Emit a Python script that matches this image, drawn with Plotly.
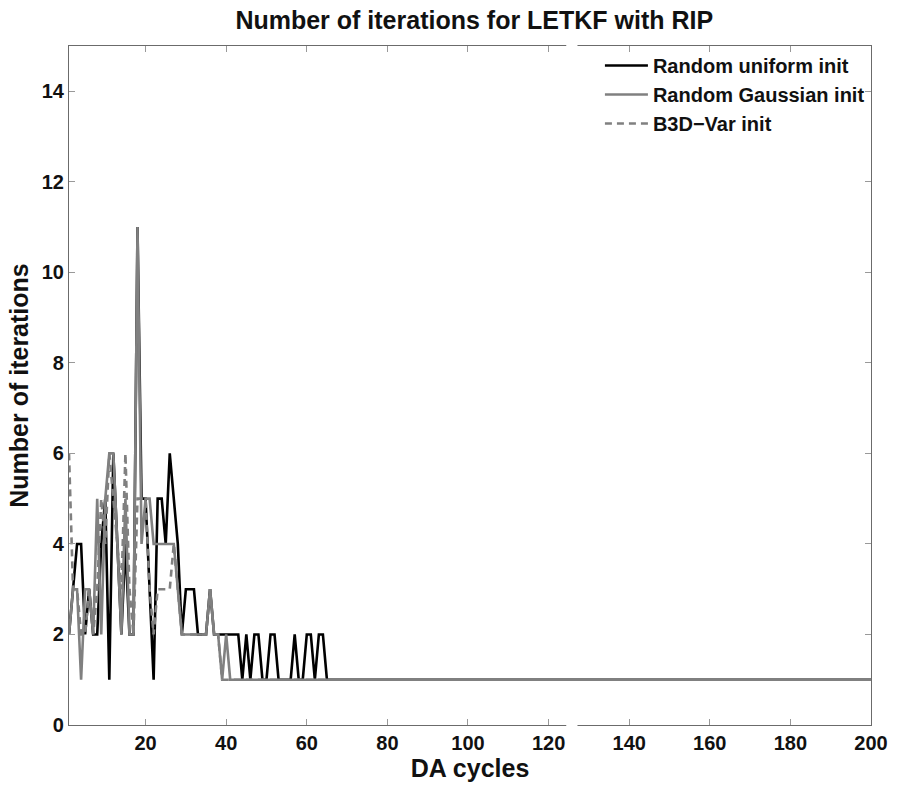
import plotly.graph_objects as go

# DA cycles 1..200
cycles = list(range(1, 201))

# Values (cycles 1..65), all series equal 1 afterwards
uniform_early = [2, 3, 4, 4, 2, 3, 2, 2, 4, 5,
                 1, 6, 4, 2, 4, 2, 2, 11, 5, 5,
                 3, 1, 5, 5, 4, 6, 5, 4, 2, 3,
                 3, 3, 2, 2, 2, 3, 2, 2, 2, 2,
                 2, 2, 2, 1, 2, 1, 2, 2, 1, 1,
                 2, 2, 1, 1, 1, 1, 2, 1, 1, 2,
                 2, 1, 2, 2, 1]
gaussian_early = [2, 3, 3, 1, 3, 3, 2, 5, 2, 5,
                  6, 6, 4, 2, 5, 2, 2, 11, 4, 5,
                  5, 4, 4, 4, 4, 4, 4, 3, 2, 2,
                  2, 2, 2, 2, 2, 3, 2, 2, 1, 2,
                  1]
b3dvar_early = [6, 3, 3, 2, 2, 3, 2, 3, 5, 4,
                6, 5, 4, 3, 6, 3, 2, 5, 5, 5,
                3, 2, 3, 3, 3, 3, 4, 3, 2, 2,
                2, 2, 2, 2, 2, 3, 2, 2, 1]

uniform = uniform_early + [1] * (200 - len(uniform_early))
gaussian = gaussian_early + [1] * (200 - len(gaussian_early))
b3dvar = b3dvar_early + [1] * (200 - len(b3dvar_early))

x_ticks = [20, 40, 60, 80, 100, 120, 140, 160, 180, 200]
y_ticks = [0, 2, 4, 6, 8, 10, 12, 14]

FONT = "Liberation Sans, Arial, Helvetica, sans-serif"
GREY = "#808080"
FRAME = "#6b6b6b"
TXT = "#111111"

fig = go.Figure()
fig.add_trace(go.Scatter(x=cycles, y=uniform, mode="lines", name="Random uniform init",
                         line=dict(color="#000000", width=2.6)))
fig.add_trace(go.Scatter(x=cycles, y=gaussian, mode="lines", name="Random Gaussian init",
                         line=dict(color=GREY, width=2.6)))
fig.add_trace(go.Scatter(x=cycles, y=b3dvar, mode="lines", name="B3D\u2212Var init",
                         line=dict(color=GREY, width=2.6, dash="7px,5px")))

fig.update_layout(
    width=900, height=787,
    margin=dict(l=69, r=21, t=46, b=57),
    paper_bgcolor="white", plot_bgcolor="white",
    font=dict(family=FONT, size=18, color=TXT, weight="bold"),
    title=dict(text="Number of iterations for LETKF with RIP", x=0.527, xanchor="center",
               y=1 - 20 / 787, yanchor="middle",
               font=dict(family=FONT, size=25, color=TXT, weight="bold")),
    legend=dict(x=0.662, xanchor="left", y=1.0, yanchor="top",
                bgcolor="rgba(0,0,0,0)", borderwidth=0,
                font=dict(family=FONT, size=20, color=TXT, weight="bold"),
                itemwidth=43),
    showlegend=True,
)
fig.update_xaxes(range=[1, 200], tickvals=x_ticks, ticks="inside", ticklen=6,
                 tickcolor="#999999", showline=True, linecolor=FRAME, linewidth=1.2,
                 mirror="ticks", showgrid=False, zeroline=False,
                 tickfont=dict(family=FONT, size=20, color=TXT, weight="bold"),
                 title=dict(text="DA cycles", standoff=3,
                            font=dict(family=FONT, size=25, color=TXT, weight="bold")))
fig.update_yaxes(range=[0, 15], tickvals=y_ticks, ticks="inside", ticklen=6,
                 tickcolor="#999999", showline=True, linecolor=FRAME, linewidth=1.2,
                 mirror="ticks", showgrid=False, zeroline=False,
                 tickfont=dict(family=FONT, size=20, color=TXT, weight="bold"),
                 title=dict(text="Number of iterations", standoff=5,
                            font=dict(family=FONT, size=25, color=TXT, weight="bold")))

# small white gap in the frame seen in the reference (top and bottom)
for y0, y1 in [(-0.006, 0.006), (0.994, 1.006)]:
    fig.add_shape(type="rect", xref="paper", yref="paper", x0=0.620, x1=0.634,
                  y0=y0, y1=y1, fillcolor="white", line=dict(width=0), layer="above")

fig.write_html("out.html", config={"displayModeBar": False},
               post_script="document.body.style.margin='0';")
